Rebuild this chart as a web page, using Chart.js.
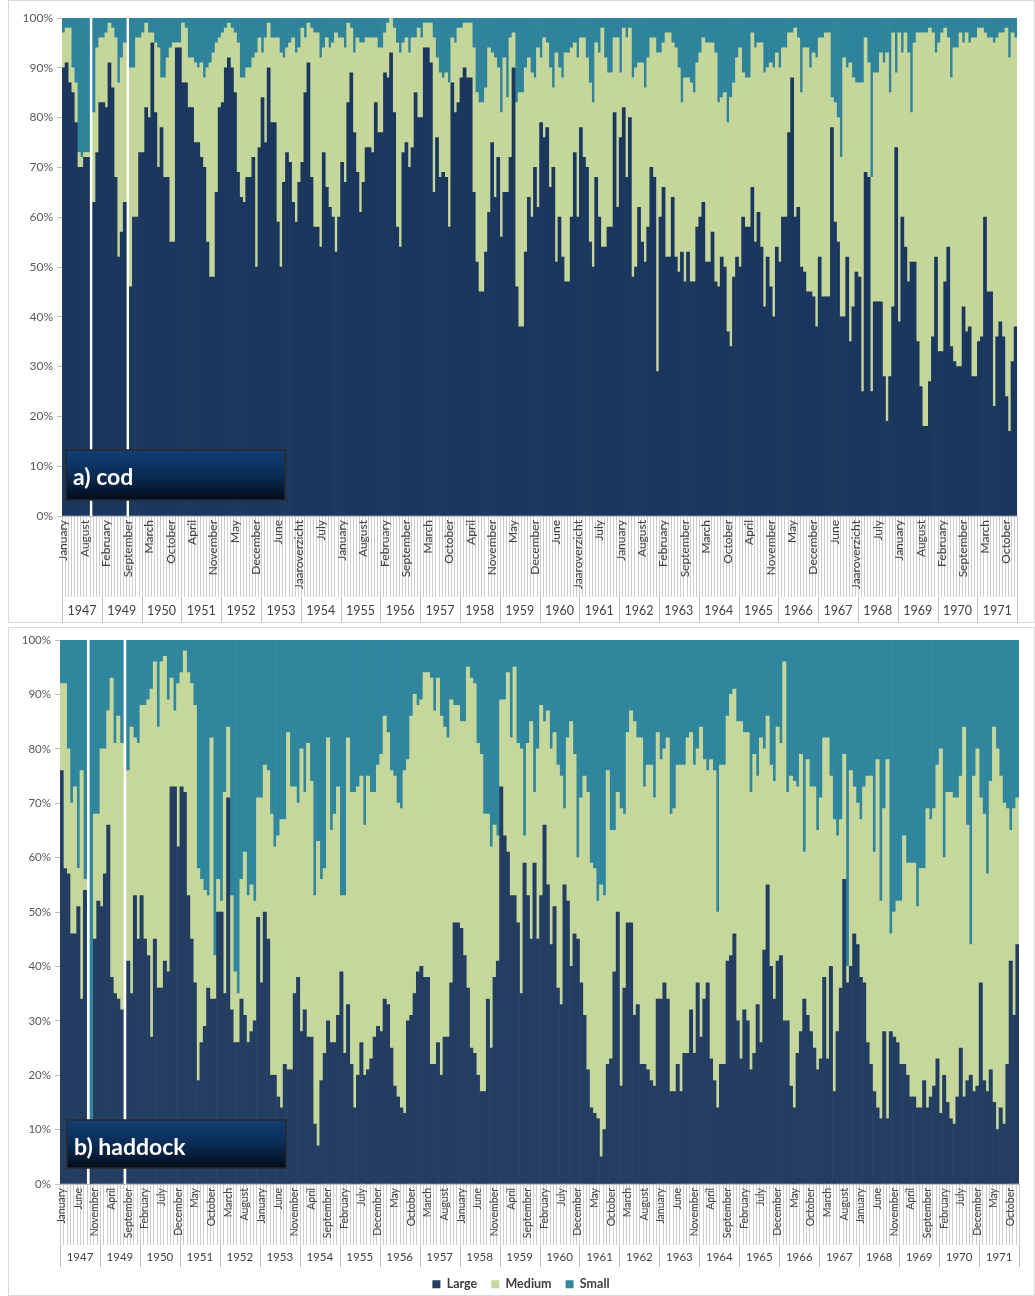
<!DOCTYPE html>
<html>
<head>
<meta charset="utf-8">
<script src="https://cdn.jsdelivr.net/npm/chart.js@4.4.1/dist/chart.umd.min.js"></script>
<style>
  body { margin: 0; background: #fff; width: 1035px; height: 1296px; position: relative; overflow: hidden; }
  .panel { position: absolute; left: 8px; width: 1027px; border: 1px solid #d9d9d9; box-sizing: border-box; background: #fff; }
  #codPanel { top: 0; height: 623px; }
  #haddockPanel { top: 627px; height: 669px; }
  canvas { display: block; }
</style>
</head>
<body>
<div class="panel" id="codPanel"><canvas id="codChart" width="1025" height="621"></canvas></div>
<div class="panel" id="haddockPanel"><canvas id="haddockChart" width="1025" height="667"></canvas></div>

<script>
// categories
const monthNames = ['January', 'February', 'March', 'April', 'May', 'June', 'July',
  'August', 'September', 'October', 'November', 'December'];
const codPeriods = monthNames.concat(['Jaaroverzicht']);
const years = [1947, 1949, 1950, 1951, 1952, 1953, 1954, 1955, 1956, 1957, 1958, 1959,
  1960, 1961, 1962, 1963, 1964, 1965, 1966, 1967, 1968, 1969, 1970, 1971];

// a) cod - share (%) per period, 13 periods a year (null = no data)
const codLarge = [
  90,91,87,85,79,70,70,72,72,null,63,73,83,83,82,91,86,68,52,57,63,null,46,60,60,73,73,82,80,95,
  81,70,78,68,68,55,55,94,94,87,87,82,82,75,75,72,70,55,48,48,65,82,83,90,92,90,85,69,64,63,
  68,68,72,
  50,74,84,75,90,79,79,59,50,67,73,71,63,59,67,71,85,91,68,58,58,54,73,66,62,60,53,60,71,67,
  83,89,77,69,61,67,74,74,73,83,77,77,89,88,93,81,58,54,73,75,70,74,85,80,80,94,94,91,65,76,
  68,69,
  68,58,87,81,83,88,90,88,88,65,51,45,45,53,61,75,64,72,56,65,65,72,90,46,38,38,
  53,64,60,70,62,79,76,78,66,70,51,60,52,47,47,60,73,60,78,72,70,55,50,68,60,54,54,58,58,
  81,62,76,82,68,80,48,50,
  62,55,51,58,70,68,29,60,66,52,52,64,52,49,53,47,53,47,47,58,60,63,51,51,
  57,47,46,52,50,37,34,48,52,50,60,58,58,66,55,61,54,42,52,46,40,54,51,60,60,
  77,88,60,62,50,49,45,45,44,38,52,44,44,44,
  78,59,55,40,40,52,35,42,49,48,25,69,68,25,43,43,43,28,19,28,42,74,39,60,54,47,51,51,35,26,18,18,
  27,36,52,33,33,47,54,34,31,30,30,42,37,38,28,28,35,36,60,45,45,22,36,39,36,24,17,31,38
];
const codMedium = [
  7,7,11,5,8,3,2,1,1,null,18,21,13,13,15,8,12,28,35,35,32,null,44,30,36,23,24,17,17,2,
  14,24,10,20,24,39,40,1,1,12,11,10,10,16,15,19,18,35,43,45,30,14,14,8,7,8,12,26,24,25,
  22,22,20,
  43,22,9,21,9,17,17,37,43,25,21,24,33,34,27,27,11,8,30,39,39,38,21,30,32,35,44,36,25,27,
  16,9,16,27,34,28,22,22,23,13,17,17,8,11,7,17,37,39,22,21,23,22,11,18,16,5,5,8,31,16,
  21,19,
  21,29,9,14,15,10,9,11,11,29,34,38,38,33,33,18,28,18,25,27,19,24,7,37,47,47,
  37,28,29,18,32,13,20,17,24,16,42,30,36,46,46,34,22,32,18,24,22,32,33,27,33,44,38,31,31,
  15,34,13,16,28,18,40,40,
  29,36,35,34,26,28,64,33,29,45,45,31,42,41,30,41,35,40,38,33,33,33,44,44,
  38,46,37,32,35,42,50,39,40,44,29,30,30,31,39,34,41,47,38,45,50,39,39,34,34,
  20,9,38,34,35,45,49,45,49,54,44,52,53,53,
  6,24,25,32,52,38,56,46,38,39,62,27,23,43,46,46,50,63,74,57,55,15,58,33,43,46,30,44,62,71,79,79,
  71,61,41,62,64,51,42,54,63,64,67,53,60,57,68,68,63,62,37,51,51,73,60,58,61,74,75,66,58
];
const codSmall = [
  3,2,2,10,13,27,28,27,27,null,19,6,4,4,3,1,2,4,13,8,5,null,10,10,4,4,3,1,3,3,
  5,6,12,12,8,6,5,5,5,1,2,8,8,9,10,9,12,10,9,7,5,4,3,2,1,2,3,5,12,12,
  10,10,8,
  7,4,7,4,1,4,4,4,7,8,6,5,4,7,6,2,4,1,2,3,3,8,6,4,6,5,3,4,4,6,
  1,2,7,4,5,5,4,4,4,4,6,6,3,1,0,2,5,7,5,4,7,4,4,2,4,1,1,1,4,8,
  11,12,
  11,13,4,5,2,2,1,1,1,6,15,17,17,14,6,7,8,10,19,8,16,4,3,17,15,15,
  10,8,11,12,6,8,4,5,10,14,7,10,12,7,7,6,5,8,4,4,8,13,17,5,7,2,8,11,11,
  4,4,11,2,4,2,12,10,
  9,9,14,8,4,4,7,7,5,3,3,5,6,10,17,12,12,13,15,9,7,4,5,5,
  5,7,17,16,15,21,16,13,8,6,11,12,12,3,6,5,5,11,10,9,10,7,10,6,6,
  3,3,2,4,15,6,6,10,7,8,4,4,3,3,
  16,17,20,28,8,10,9,12,13,13,13,4,9,32,11,11,7,9,7,15,3,11,3,7,3,7,19,5,3,3,3,3,
  2,3,7,5,3,2,4,12,6,6,3,5,3,5,4,4,2,2,3,4,4,5,4,3,3,2,8,3,4
];

// b) haddock - share (%) per month, 12 months a year (null = no data)
const haddockLarge = [
  76,58,57,46,46,51,34,54,null,3,45,52,51,57,66,38,35,34,32,null,
  41,35,53,45,53,45,42,27,45,36,36,41,39,73,73,62,73,72,53,45,
  37,19,26,29,36,34,34,50,50,35,71,32,26,26,34,31,26,28,
  30,49,37,50,45,20,20,16,14,22,21,21,35,38,28,32,27,27,11,7,
  19,24,30,26,26,31,39,24,33,22,14,20,26,20,21,23,27,29,28,34,
  33,25,18,16,14,13,30,31,35,39,40,38,38,22,22,26,20,27,
  27,37,48,48,47,42,36,25,24,20,17,17,34,25,38,41,73,64,61,53,
  53,48,35,59,53,45,59,45,53,66,55,44,51,36,33,55,52,40,46,45,
  37,31,21,14,13,12,5,10,22,23,39,50,18,36,48,48,31,33,
  22,22,21,19,18,34,34,37,34,17,17,22,17,24,24,32,24,37,27,34,
  37,23,19,14,22,22,41,42,46,30,23,32,30,21,24,33,26,43,55,40,
  34,41,42,30,30,18,14,24,28,34,31,28,25,21,23,38,23,40,
  17,28,36,56,37,40,46,44,38,37,26,22,17,14,12,28,12,28,27,26,
  22,22,20,16,16,14,14,19,14,16,18,23,13,20,15,12,11,16,25,16,
  19,20,17,18,37,19,17,21,15,10,14,11,22,41,31,44
];
const haddockMedium = [
  16,34,23,24,27,7,42,2,null,2,23,16,29,23,21,55,46,52,49,null,
  35,49,29,36,35,43,47,64,51,48,60,56,50,20,14,30,21,26,41,47,
  51,39,30,25,17,48,8,6,2,37,13,21,13,9,22,30,27,27,
  22,22,34,27,31,48,42,48,53,45,62,52,38,32,52,40,54,47,42,56,
  37,34,52,39,42,42,14,29,49,50,58,53,49,46,54,49,45,48,51,52,
  50,51,57,54,55,63,48,55,55,49,49,56,56,71,65,67,66,57,
  55,52,40,40,38,43,59,68,68,61,62,51,34,37,28,23,16,25,33,29,
  42,33,45,5,28,40,13,35,35,19,32,36,32,41,42,14,30,45,33,15,
  34,44,51,45,45,40,50,43,54,42,26,22,51,32,35,39,54,49,
  60,51,56,58,53,49,44,43,48,51,52,55,60,53,58,51,53,43,57,44,
  39,55,57,36,55,55,45,48,45,55,62,51,53,51,55,42,56,37,31,37,
  40,43,39,66,42,57,60,49,51,27,47,45,48,44,48,44,59,35,
  50,36,31,23,3,36,27,26,29,36,49,53,44,64,40,41,66,18,23,26,
  30,42,39,43,43,37,44,39,55,51,51,54,67,40,57,60,60,55,50,68,
  47,24,58,62,34,49,40,53,69,70,61,59,47,24,38,27
];
const haddockSmall = [
  8,8,20,30,27,42,24,44,null,95,32,32,20,20,13,7,19,14,19,null,
  24,16,18,19,12,12,11,9,4,16,4,3,11,7,13,8,6,2,6,8,
  12,42,44,46,47,18,58,44,48,28,16,47,61,65,44,39,47,45,
  48,29,29,23,24,32,38,36,33,33,17,27,27,30,20,28,19,26,47,37,
  44,42,18,35,32,27,47,47,18,28,28,27,25,34,25,28,28,23,21,14,
  17,24,25,30,31,24,22,14,10,12,11,6,6,7,13,7,14,16,
  18,11,12,12,15,15,5,7,8,19,21,32,32,38,34,36,11,11,6,18,
  5,19,20,36,19,15,28,20,12,15,13,20,17,23,25,31,18,15,21,40,
  29,25,28,41,42,48,45,47,24,35,35,28,31,32,17,13,15,18,
  18,27,23,23,29,17,22,20,18,32,31,23,23,23,18,17,23,20,16,22,
  24,22,24,50,23,23,14,10,9,15,15,17,17,28,21,25,18,20,14,23,
  26,16,19,4,28,25,26,27,21,39,22,27,27,35,29,18,18,25,
  33,36,33,21,60,24,27,30,33,27,25,25,39,22,48,31,22,54,50,48,
  48,36,41,41,41,49,42,42,31,33,31,23,20,40,28,28,29,29,25,16,
  34,56,25,20,29,32,43,26,16,20,25,30,31,35,31,29
];

const codLabels = [];
years.forEach(y => codPeriods.forEach(p => codLabels.push(p)));
const haddockLabels = [];
years.forEach(y => monthNames.forEach(m => haddockLabels.push(m)));

// month separators, year row and the title box under/over the plot
const yearRows = {
  id: 'yearRows',
  beforeDraw(chart, args, o) {
    const ctx = chart.ctx, a = chart.chartArea;
    const n = chart.data.labels.length;
    const w = (a.right - a.left) / n;
    ctx.save();
    ctx.lineWidth = 1;
    ctx.strokeStyle = '#cccccc';
    ctx.beginPath();
    for (let i = 0; i <= n; i++) {
      const x = Math.round(a.left + i * w) + 0.5;
      ctx.moveTo(x, a.bottom);
      ctx.lineTo(x, a.bottom + o.monthRow);
    }
    ctx.stroke();
    ctx.strokeStyle = '#c0c0c0';
    ctx.beginPath();
    for (let k = 0; k <= years.length; k++) {
      const x = Math.round(a.left + k * o.perYear * w) + 0.5;
      ctx.moveTo(x, a.bottom + o.monthRow);
      ctx.lineTo(x, a.bottom + o.monthRow + o.yearRow);
    }
    ctx.stroke();
    ctx.fillStyle = '#404040';
    ctx.font = o.yearFont;
    ctx.textAlign = 'center';
    ctx.textBaseline = 'middle';
    years.forEach((y, k) => {
      ctx.fillText(String(y), a.left + (k + 0.5) * o.perYear * w, a.bottom + o.monthRow + o.yearRow / 2 + 1);
    });
    ctx.restore();
  },
  afterDraw(chart, args, o) {
    const ctx = chart.ctx, a = chart.chartArea;
    const x = a.left + o.boxX, y = a.bottom - o.boxUp, w = 219, h = o.boxH;
    ctx.save();
    const g = ctx.createLinearGradient(0, y, 0, y + h);
    g.addColorStop(0, '#113f76');
    g.addColorStop(0.5, '#0a2c56');
    g.addColorStop(1, '#030c1a');
    ctx.fillStyle = g;
    ctx.fillRect(x, y, w, h);
    ctx.strokeStyle = '#2a2a2a';
    ctx.lineWidth = 1.5;
    ctx.strokeRect(x, y, w, h);
    ctx.fillStyle = '#ffffff';
    ctx.font = 'bold 23px Lato';
    ctx.textAlign = 'left';
    ctx.textBaseline = 'alphabetic';
    ctx.fillText(o.title, x + 7, y + 35);
    ctx.restore();
  }
};

function makeChart(id, labels, large, medium, small, c) {
  return new Chart(document.getElementById(id), {
    type: 'bar',
    data: {
      labels: labels,
      datasets: [
        { label: 'Large', data: large, backgroundColor: c.large },
        { label: 'Medium', data: medium, backgroundColor: c.medium },
        { label: 'Small', data: small, backgroundColor: c.small }
      ]
    },
    options: {
      responsive: false,
      animation: false,
      events: [],
      barPercentage: 1,
      categoryPercentage: 1,
      borderWidth: 0,
      layout: { padding: c.padding },
      scales: {
        x: {
          stacked: true,
          grid: { display: true, drawOnChartArea: false, drawTicks: false },
          border: { color: '#bfbfbf' },
          ticks: {
            autoSkip: false, minRotation: 90, maxRotation: 90, padding: 4,
            color: '#404040', font: { family: 'Lato', size: c.monthSize },
            callback(v, i) { return i % c.step === 0 ? this.getLabelForValue(v) : ''; }
          },
          afterFit(scale) { scale.height = c.xHeight; }
        },
        y: {
          stacked: true, min: 0, max: 100,
          grid: { drawOnChartArea: false, drawTicks: true, tickLength: 5, color: '#bfbfbf' },
          border: { color: '#bfbfbf' },
          ticks: {
            stepSize: 10, padding: 4, color: '#595959',
            font: { family: 'Lato', size: c.ySize },
            callback: v => v + '%'
          },
          afterFit(scale) { scale.width = c.yWidth; }
        }
      },
      plugins: {
        legend: c.legend,
        tooltip: { enabled: false },
        yearRows: c.rows
      }
    },
    plugins: [yearRows]
  });
}

makeChart('codChart', codLabels, codLarge, codMedium, codSmall, {
  large: '#1b375d', medium: '#c5d69b', small: '#2f849c',
  padding: { left: 0, right: 1, top: 17, bottom: 0 },
  step: 7, monthSize: 12, ySize: 12, xHeight: 106, yWidth: 53,
  legend: { display: false },
  rows: { monthRow: 81, yearRow: 25, perYear: 13, yearFont: '12.5px Lato',
    boxX: 4, boxUp: 66, boxH: 50, title: 'a) cod' }
});

makeChart('haddockChart', haddockLabels, haddockLarge, haddockMedium, haddockSmall, {
  large: '#243e62', medium: '#c6d79c', small: '#2f869d',
  padding: { left: 0, right: 1, top: 12, bottom: 5 },
  step: 5, monthSize: 10.5, ySize: 11.5, xHeight: 80, yWidth: 51,
  legend: {
    display: true, position: 'bottom', maxHeight: 26,
    labels: { boxWidth: 8, boxHeight: 8, padding: 14, color: '#404040',
      font: { family: 'Lato', size: 12.5, weight: 'bold' } }
  },
  rows: { monthRow: 61, yearRow: 22, perYear: 12, yearFont: '11.5px Lato',
    boxX: 7, boxUp: 64, boxH: 48, title: 'b) haddock' }
});
</script>
</body>
</html>
